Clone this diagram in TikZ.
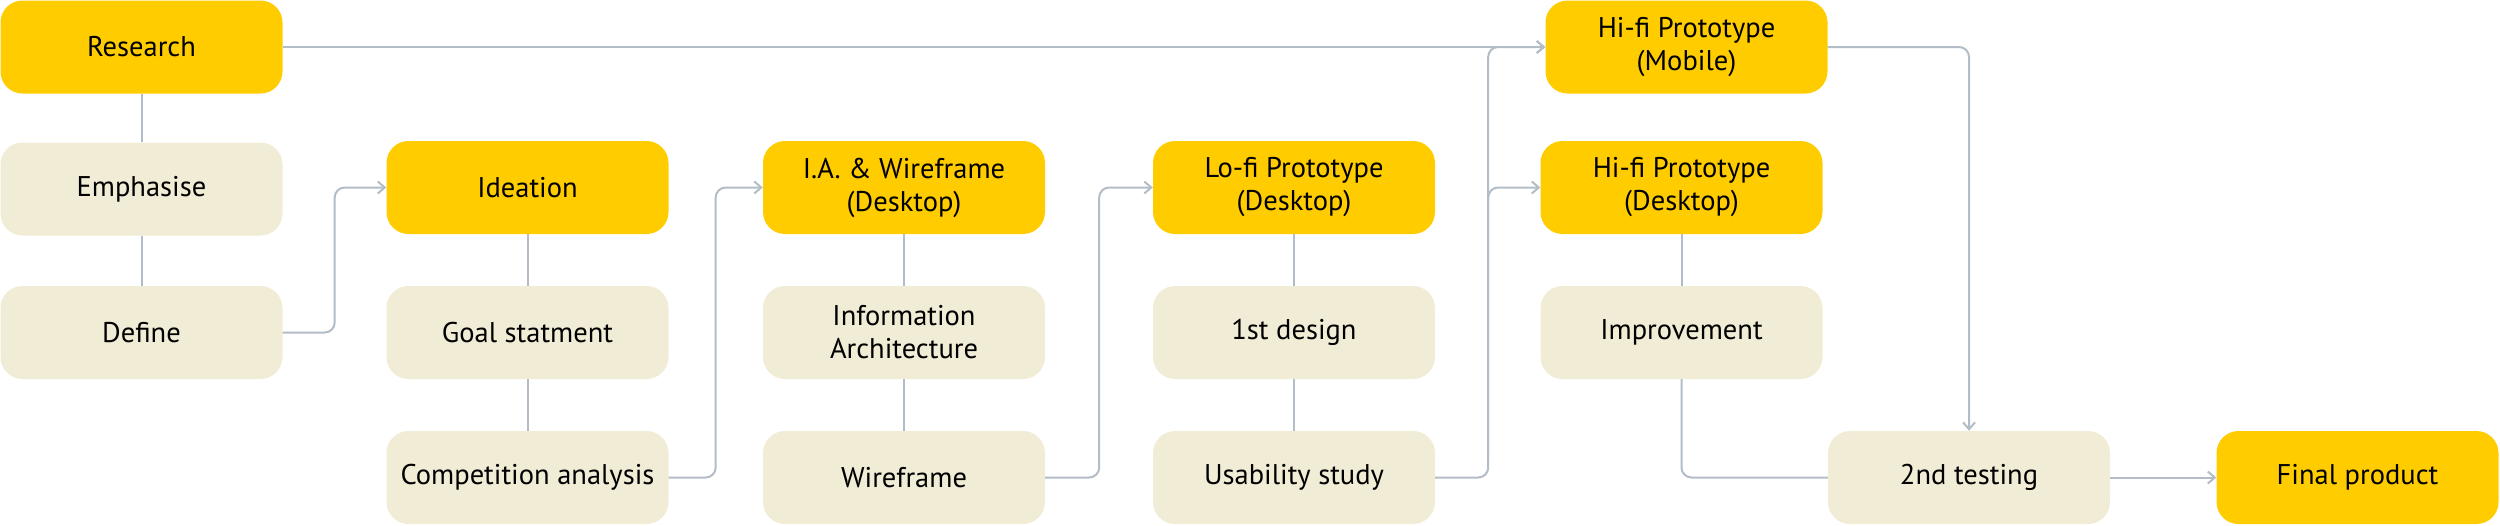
\documentclass[tikz,border=0pt]{standalone}
\usepackage{fontspec}
\setmainfont{PT Sans}
\usetikzlibrary{arrows.meta}
\definecolor{hiyel}{HTML}{FFCC00}
\definecolor{beige}{HTML}{F1ECD5}
\definecolor{conn}{HTML}{B3BDC7}
\begin{document}
\begin{tikzpicture}[x=1pt,y=-1pt,
  base/.style={rounded corners=22pt, minimum width=282pt, minimum height=93pt, inner sep=0pt, align=center, font=\fontsize{28.5}{33}\selectfont, text=black},
  major/.style={base, fill=hiyel},
  minor/.style={base, fill=beige},
  link/.style={draw=conn, line width=2pt, rounded corners=10pt},
  flow/.style={link, -{Straight Barb[length=7pt,width=12pt]}}]
\useasboundingbox (0,0) rectangle (2500,525);
% column 1
\node[major] (research) at (141.5,47) {Research};
\node[minor] (emph) at (141.5,189) {Emphasise};
\node[minor] (define) at (141.5,332.5) {Define};
% column 2
\node[major] (ideation) at (527.5,187.5) {Ideation};
\node[minor] (goal) at (527.5,332.5) {Goal statment};
\node[minor] (comp) at (527.5,477.5) {Competition analysis};
% column 3
\node[major] (ia) at (904,187.5) {I.A. \& Wireframe\\(Desktop)};
\node[minor] (infoarch) at (904,332.5) {Information\\Architecture};
\node[minor] (wire) at (904,477.5) {Wireframe};
% column 4
\node[major] (lofi) at (1294,187.5) {Lo-fi Prototype\\(Desktop)};
\node[minor] (first) at (1294,332.5) {1st design};
\node[minor] (usab) at (1294,477.5) {Usability study};
% column 5
\node[major] (mobile) at (1686.5,47) {Hi-fi Prototype\\(Mobile)};
\node[major] (desktop) at (1681.5,187.5) {Hi-fi Prototype\\(Desktop)};
\node[minor] (improv) at (1681.5,332.5) {Improvement};
% last
\node[minor] (test) at (1969,477.5) {2nd testing};
\node[major] (final) at (2357.5,477.5) {Final product};
% connectors
\draw[link] (research.south) -- (emph.north);
\draw[link] (emph.south) -- (define.north);
\draw[link] (ideation.south) -- (goal.north);
\draw[link] (goal.south) -- (comp.north);
\draw[link] (ia.south) -- (infoarch.north);
\draw[link] (infoarch.south) -- (wire.north);
\draw[link] (lofi.south) -- (first.north);
\draw[link] (first.south) -- (usab.north);
\draw[link] (desktop.south) -- (improv.north);
\draw[flow] (define.east) -- ++(52,0) |- (ideation.west);
\draw[flow] (comp.east) -- ++(47,0) |- (ia.west);
\draw[flow] (wire.east) -- ++(54,0) |- (lofi.west);
\draw[flow] (usab.east) -- ++(53,0) coordinate (uj) |- (mobile.west);
\draw[flow] (uj) ++(0,-20) -- ++(0,-250) |- (desktop.west);
\draw[flow] (research.east) -- (mobile.west);
\draw[link] (improv.south) |- (test.west);
\draw[flow] (mobile.east) -| (test.north);
\draw[flow] (test.east) -- (final.west);
\end{tikzpicture}
\end{document}
